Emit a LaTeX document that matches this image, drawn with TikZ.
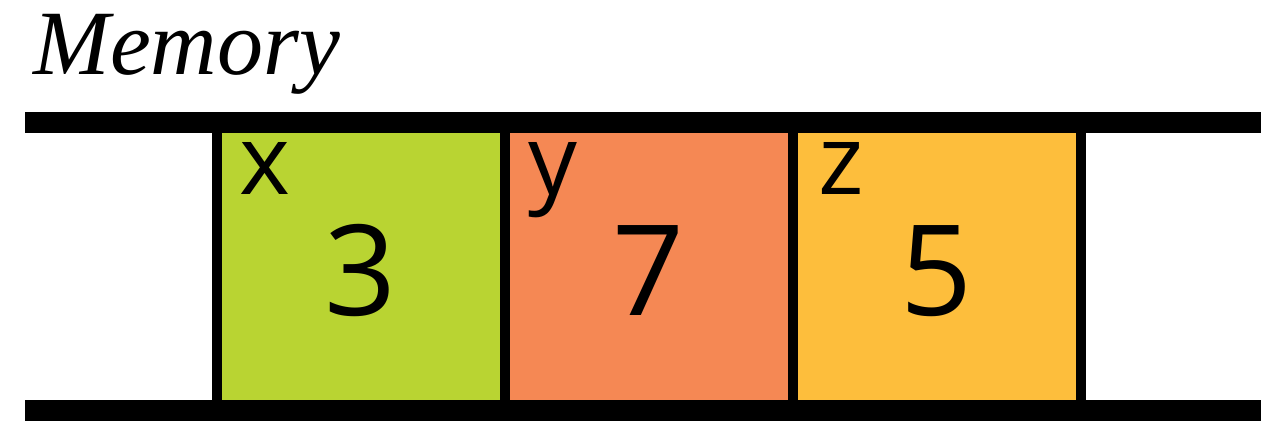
\documentclass[tikz,border=0pt]{standalone}
\usepackage{fontspec}
\newfontfamily\cellfont{Open Sans}
\newfontfamily\titlefont{Liberation Serif}
\usetikzlibrary{positioning}

\definecolor{xgreen}{RGB}{185,212,50}
\definecolor{yorange}{RGB}{245,136,84}
\definecolor{zyellow}{RGB}{253,190,60}

\begin{document}
\begin{tikzpicture}[x=0.5pt,y=-0.5pt,
  cell/.style={draw,line width=5pt,outer sep=0pt,inner sep=0pt,
    minimum width=144pt,minimum height=144pt,text height=49pt,text depth=0pt,
    font=\cellfont\fontsize{63}{63}\selectfont},
  tag/.style={anchor=base,inner sep=0pt,font=\cellfont\fontsize{48.6}{48.6}\selectfont},
  rail/.style={line width=10.5pt}]
\useasboundingbox (0,0) rectangle (1261,431);

\node[anchor=base west,inner sep=0pt,font=\titlefont\itshape\fontsize{46}{46}\selectfont] (title) at (33,75) {Memory};

\node[cell,fill=xgreen] (xcell) at (361,266.5) {3};
\node[cell,fill=yorange,right=0pt of xcell] (ycell) {7};
\node[cell,fill=zyellow,right=0pt of ycell] (zcell) {5};

\node[tag] (xtag) at ([xshift=24pt,yshift=-36.25pt]xcell.north west) {x};
\node[tag] (ytag) at ([xshift=24pt,yshift=-36.25pt]ycell.north west) {y};
\node[tag] (ztag) at ([xshift=24pt,yshift=-36.25pt]zcell.north west) {z};

\draw[rail] (25,122.5) -- (1261,122.5);
\draw[rail] (25,410.5) -- (1261,410.5);
\end{tikzpicture}
\end{document}
